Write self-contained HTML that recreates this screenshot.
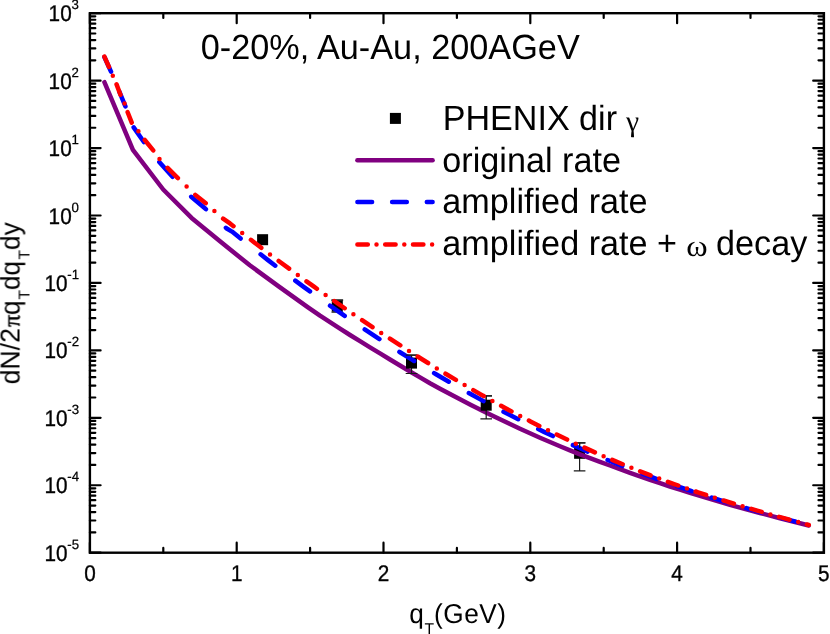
<!DOCTYPE html>
<html><head><meta charset="utf-8"><title>chart</title>
<style>html,body{margin:0;padding:0;background:#fff;}svg{display:block;}</style>
</head><body>
<svg width="830" height="634" viewBox="0 0 830 634">
<rect width="830" height="634" fill="#fff"/>
<g stroke="#1a1a1a" stroke-width="1.2" fill="none">
<path d="M579.6 442.8 V470.8 M573.8 442.8 H585.4 M573.8 470.8 H585.4"/>
</g>
<g fill="#000">
<rect x="574.1" y="447.8" width="11" height="11"/>
</g>
<g fill="none" stroke-linecap="round" stroke-linejoin="round" stroke-width="4.5">
<path d="M104.4 82.2 L132.9 149.9 L163.2 189.5 L191.6 217.9 L220.6 241.8 L249.8 265.3 L279.0 286.6 L308.0 307.3 L320.0 315.7 L330.0 322.2 L340.0 328.6 L350.0 335.0 L360.0 341.2 L370.0 347.3 L380.0 353.4 L390.0 359.5 L400.0 365.5 L410.0 371.5 L420.0 377.4 L430.0 383.2 L440.0 388.7 L450.0 394.1 L460.0 399.3 L470.0 404.4 L480.0 409.4 L490.0 414.4 L500.0 419.2 L510.0 424.0 L520.0 428.7 L530.0 433.2 L540.0 437.7 L550.0 442.0 L560.0 446.2 L570.0 450.3 L580.0 454.3 L590.0 458.1 L600.0 461.8 L610.0 465.5 L620.0 469.2 L630.0 472.8 L640.0 476.3 L650.0 479.8 L660.0 483.2 L670.0 486.5 L680.0 489.7 L690.0 492.8 L700.0 495.8 L710.0 498.9 L720.0 501.9 L730.0 504.8 L740.0 507.6 L750.0 510.3 L760.0 513.0 L770.0 515.6 L780.0 518.2 L790.0 520.7 L800.0 523.3 L808.8 525.5" stroke="#800080"/>
</g>
<g stroke="#1a1a1a" stroke-width="1.2" fill="none">
<path d="M337.3 300.1 V312.1 M331.5 300.1 H343.1 M331.5 312.1 H343.1"/>
<path d="M411.5 355.1 V373.5 M405.7 355.1 H417.3 M405.7 373.5 H417.3"/>
<path d="M486.2 395.9 V418.8 M480.4 395.9 H492.0 M480.4 418.8 H492.0"/>
</g>
<g fill="#000">
<rect x="257.1" y="234.2" width="11" height="11"/>
<rect x="331.8" y="300.6" width="11" height="11"/>
<rect x="406.0" y="357.6" width="11" height="11"/>
<rect x="480.7" y="399.7" width="11" height="11"/>
</g>
<g fill="none" stroke-linecap="round" stroke-linejoin="round" stroke-width="4.5">
<path d="M104.40 57.00 L111.00 71.60 L111.04 71.70M119.33 91.70 L125.43 106.40M133.67 127.40 L143.90 142.00 L143.98 142.10M159.27 162.10 L171.60 175.80 L172.53 176.80M191.20 196.80 L205.50 208.80 L205.90 209.17M225.90 227.83 L226.30 228.20 L232.00 231.60 L240.60 238.53M260.60 254.34 L268.00 260.10 L275.30 265.67M295.30 280.68 L304.00 287.09 L310.00 291.43M330.00 305.68 L340.00 312.65 L344.70 315.86M364.70 329.39 L376.00 336.84 L379.40 339.05M399.40 351.86 L400.00 352.24 L412.00 359.71 L414.10 361.00M434.10 373.08 L436.00 374.22 L448.00 381.24 L448.80 381.70M468.80 393.04 L472.00 394.83 L483.50 401.12M503.50 411.72 L508.00 414.06 L518.20 419.25M538.20 429.09 L544.00 431.88 L552.90 436.06M572.90 445.15 L580.00 448.30 L587.60 451.57M607.60 459.96 L616.00 463.38 L622.30 465.87M642.30 473.59 L652.00 477.21 L657.00 479.03M677.00 486.12 L688.00 489.88 L691.70 491.11M711.70 497.62 L712.00 497.72 L724.00 501.46 L726.40 502.19M746.40 508.15 L748.00 508.62 L760.00 512.04 L761.10 512.35M781.10 517.80 L784.00 518.58 L795.80 521.65" stroke="#0000ff"/>
</g>
<g stroke="#1a1a1a" stroke-width="1.2" fill="none">
<path d="M337.3 300.1 V300.6 M331.5 300.1 H343.1"/>
<path d="M411.5 355.1 V357.6 M405.7 355.1 H417.3"/>
<path d="M486.2 395.9 V399.7 M480.4 395.9 H492.0"/>
<path d="M579.6 442.8 V447.8 M573.8 442.8 H585.4"/>
</g>
<g fill="none" stroke-linecap="round" stroke-linejoin="round" stroke-width="4.5">
<path d="M104.40 56.60 L108.97 67.00M112.79 75.70 L112.80 75.70M116.56 84.40 L120.44 94.80M124.54 103.50 L124.55 103.50M127.65 112.20 L131.73 122.60M138.40 131.30 L138.41 131.30M144.78 140.00 L153.24 150.40M159.49 159.10 L159.50 159.10M167.51 167.80 L167.60 167.90 L177.90 178.10M186.60 186.58 L186.61 186.58M195.30 194.81 L195.40 194.90 L205.50 203.00 L205.70 203.18M214.40 210.99 L214.41 210.99M223.10 218.70 L223.10 218.70 L230.00 223.42 L233.50 226.19M242.20 233.05 L242.21 233.05M250.90 239.81 L254.00 242.22 L261.30 247.80M270.00 254.40 L270.01 254.40M278.70 260.94 L289.10 268.64M297.80 275.00 L297.81 275.00M306.50 281.31 L314.00 286.70 L316.90 288.76M325.60 294.93 L325.61 294.93M334.30 301.02 L338.00 303.61 L344.70 308.24M353.40 314.22 L353.41 314.22M362.10 320.15 L372.50 327.14M381.20 332.92 L381.21 332.92M389.90 338.65 L398.00 343.94 L400.30 345.41M409.00 351.00 L409.01 351.00M417.70 356.51 L422.00 359.23 L428.10 363.02M436.80 368.39 L436.81 368.39M445.50 373.70 L446.00 374.00 L455.90 379.93M464.60 385.06 L464.61 385.06M473.30 390.12 L482.00 395.11 L483.70 396.07M492.40 400.96 L492.41 400.96M501.10 405.75 L506.00 408.44 L511.50 411.39M520.20 416.02 L520.21 416.02M528.90 420.57 L530.00 421.15 L539.30 425.89M548.00 430.24 L548.01 430.24M556.70 434.53 L566.00 439.02 L567.10 439.54M575.80 443.63 L575.81 443.63M584.50 447.63 L590.00 450.15 L594.90 452.32M603.60 456.15 L603.61 456.15M612.30 459.90 L614.00 460.63 L622.70 464.25M631.40 467.80 L631.41 467.80M640.10 471.28 L650.00 475.14 L650.50 475.33M659.20 478.60 L659.21 478.60M667.90 481.79 L674.00 484.01 L678.30 485.51M687.00 488.55 L687.01 488.55M695.70 491.50 L698.00 492.27 L706.10 494.93M714.80 497.73 L714.81 497.73M723.50 500.48 L733.90 503.69M742.60 506.31 L742.61 506.31M751.30 508.88 L758.00 510.84 L761.70 511.90M770.40 514.39 L770.41 514.39M779.10 516.83 L782.00 517.64 L789.50 519.71M798.20 522.09 L798.21 522.09M806.90 524.44 L808.80 524.96" stroke="#ff0000"/>
</g>
<g stroke="#000" fill="none">
<rect x="89.90" y="13.20" width="734.00" height="539.50" stroke-width="2.4"/>
<path d="M89.90 552.70 v-10.00 M89.90 13.20 v10.00 M163.30 552.70 v-4.80 M163.30 13.20 v4.80 M236.70 552.70 v-10.00 M236.70 13.20 v10.00 M310.10 552.70 v-4.80 M310.10 13.20 v4.80 M383.50 552.70 v-10.00 M383.50 13.20 v10.00 M456.90 552.70 v-4.80 M456.90 13.20 v4.80 M530.30 552.70 v-10.00 M530.30 13.20 v10.00 M603.70 552.70 v-4.80 M603.70 13.20 v4.80 M677.10 552.70 v-10.00 M677.10 13.20 v10.00 M750.50 552.70 v-4.80 M750.50 13.20 v4.80 M823.90 552.70 v-10.00 M823.90 13.20 v10.00 M89.90 13.20 h10.70 M823.90 13.20 h-10.70 M89.90 60.34 h5.40 M823.90 60.34 h-5.40 M89.90 48.46 h5.40 M823.90 48.46 h-5.40 M89.90 40.04 h5.40 M823.90 40.04 h-5.40 M89.90 33.50 h5.40 M823.90 33.50 h-5.40 M89.90 28.16 h5.40 M823.90 28.16 h-5.40 M89.90 23.65 h5.40 M823.90 23.65 h-5.40 M89.90 19.74 h5.40 M823.90 19.74 h-5.40 M89.90 16.29 h5.40 M823.90 16.29 h-5.40 M89.90 80.64 h10.70 M823.90 80.64 h-10.70 M89.90 127.77 h5.40 M823.90 127.77 h-5.40 M89.90 115.90 h5.40 M823.90 115.90 h-5.40 M89.90 107.47 h5.40 M823.90 107.47 h-5.40 M89.90 100.94 h5.40 M823.90 100.94 h-5.40 M89.90 95.60 h5.40 M823.90 95.60 h-5.40 M89.90 91.08 h5.40 M823.90 91.08 h-5.40 M89.90 87.17 h5.40 M823.90 87.17 h-5.40 M89.90 83.72 h5.40 M823.90 83.72 h-5.40 M89.90 148.07 h10.70 M823.90 148.07 h-10.70 M89.90 195.21 h5.40 M823.90 195.21 h-5.40 M89.90 183.34 h5.40 M823.90 183.34 h-5.40 M89.90 174.91 h5.40 M823.90 174.91 h-5.40 M89.90 168.38 h5.40 M823.90 168.38 h-5.40 M89.90 163.04 h5.40 M823.90 163.04 h-5.40 M89.90 158.52 h5.40 M823.90 158.52 h-5.40 M89.90 154.61 h5.40 M823.90 154.61 h-5.40 M89.90 151.16 h5.40 M823.90 151.16 h-5.40 M89.90 215.51 h10.70 M823.90 215.51 h-10.70 M89.90 262.65 h5.40 M823.90 262.65 h-5.40 M89.90 250.77 h5.40 M823.90 250.77 h-5.40 M89.90 242.35 h5.40 M823.90 242.35 h-5.40 M89.90 235.81 h5.40 M823.90 235.81 h-5.40 M89.90 230.47 h5.40 M823.90 230.47 h-5.40 M89.90 225.96 h5.40 M823.90 225.96 h-5.40 M89.90 222.05 h5.40 M823.90 222.05 h-5.40 M89.90 218.60 h5.40 M823.90 218.60 h-5.40 M89.90 282.95 h10.70 M823.90 282.95 h-10.70 M89.90 330.09 h5.40 M823.90 330.09 h-5.40 M89.90 318.21 h5.40 M823.90 318.21 h-5.40 M89.90 309.79 h5.40 M823.90 309.79 h-5.40 M89.90 303.25 h5.40 M823.90 303.25 h-5.40 M89.90 297.91 h5.40 M823.90 297.91 h-5.40 M89.90 293.40 h5.40 M823.90 293.40 h-5.40 M89.90 289.49 h5.40 M823.90 289.49 h-5.40 M89.90 286.04 h5.40 M823.90 286.04 h-5.40 M89.90 350.39 h10.70 M823.90 350.39 h-10.70 M89.90 397.52 h5.40 M823.90 397.52 h-5.40 M89.90 385.65 h5.40 M823.90 385.65 h-5.40 M89.90 377.22 h5.40 M823.90 377.22 h-5.40 M89.90 370.69 h5.40 M823.90 370.69 h-5.40 M89.90 365.35 h5.40 M823.90 365.35 h-5.40 M89.90 360.83 h5.40 M823.90 360.83 h-5.40 M89.90 356.92 h5.40 M823.90 356.92 h-5.40 M89.90 353.47 h5.40 M823.90 353.47 h-5.40 M89.90 417.82 h10.70 M823.90 417.82 h-10.70 M89.90 464.96 h5.40 M823.90 464.96 h-5.40 M89.90 453.09 h5.40 M823.90 453.09 h-5.40 M89.90 444.66 h5.40 M823.90 444.66 h-5.40 M89.90 438.13 h5.40 M823.90 438.13 h-5.40 M89.90 432.79 h5.40 M823.90 432.79 h-5.40 M89.90 428.27 h5.40 M823.90 428.27 h-5.40 M89.90 424.36 h5.40 M823.90 424.36 h-5.40 M89.90 420.91 h5.40 M823.90 420.91 h-5.40 M89.90 485.26 h10.70 M823.90 485.26 h-10.70 M89.90 532.40 h5.40 M823.90 532.40 h-5.40 M89.90 520.52 h5.40 M823.90 520.52 h-5.40 M89.90 512.10 h5.40 M823.90 512.10 h-5.40 M89.90 505.56 h5.40 M823.90 505.56 h-5.40 M89.90 500.22 h5.40 M823.90 500.22 h-5.40 M89.90 495.71 h5.40 M823.90 495.71 h-5.40 M89.90 491.80 h5.40 M823.90 491.80 h-5.40 M89.90 488.35 h5.40 M823.90 488.35 h-5.40 M89.90 552.70 h10.70 M823.90 552.70 h-10.70 " stroke-width="2.2" stroke-linecap="round"/>
</g>
<g font-family="'Liberation Sans', sans-serif" fill="#000" opacity="0.999" style="text-rendering:geometricPrecision">
<text transform="translate(90.10 581.00) scale(0.9140 1)" font-size="22.7" text-anchor="middle" stroke="#000" stroke-width="0.35">0</text>
<text transform="translate(236.82 581.00) scale(0.9140 1)" font-size="22.7" text-anchor="middle" stroke="#000" stroke-width="0.35">1</text>
<text transform="translate(383.54 581.00) scale(0.9140 1)" font-size="22.7" text-anchor="middle" stroke="#000" stroke-width="0.35">2</text>
<text transform="translate(530.26 581.00) scale(0.9140 1)" font-size="22.7" text-anchor="middle" stroke="#000" stroke-width="0.35">3</text>
<text transform="translate(676.98 581.00) scale(0.9140 1)" font-size="22.7" text-anchor="middle" stroke="#000" stroke-width="0.35">4</text>
<text transform="translate(823.70 581.00) scale(0.9140 1)" font-size="22.7" text-anchor="middle" stroke="#000" stroke-width="0.35">5</text>
<text transform="translate(71.70 21.00) scale(0.9140 1)" font-size="22.7" text-anchor="end" stroke="#000" stroke-width="0.35">10</text>
<text transform="translate(71.50 9.00) scale(0.9900 1)" font-size="13.4" text-anchor="start" stroke="#000" stroke-width="0.25">3</text>
<text transform="translate(71.70 89.00) scale(0.9140 1)" font-size="22.7" text-anchor="end" stroke="#000" stroke-width="0.35">10</text>
<text transform="translate(71.50 77.00) scale(0.9900 1)" font-size="13.4" text-anchor="start" stroke="#000" stroke-width="0.25">2</text>
<text transform="translate(71.70 156.00) scale(0.9140 1)" font-size="22.7" text-anchor="end" stroke="#000" stroke-width="0.35">10</text>
<text transform="translate(71.50 144.00) scale(0.9900 1)" font-size="13.4" text-anchor="start" stroke="#000" stroke-width="0.25">1</text>
<text transform="translate(71.70 224.00) scale(0.9140 1)" font-size="22.7" text-anchor="end" stroke="#000" stroke-width="0.35">10</text>
<text transform="translate(71.50 212.00) scale(0.9900 1)" font-size="13.4" text-anchor="start" stroke="#000" stroke-width="0.25">0</text>
<text transform="translate(67.60 291.00) scale(0.9140 1)" font-size="22.7" text-anchor="end" stroke="#000" stroke-width="0.35">10</text>
<text transform="translate(67.30 279.00) scale(0.9900 1)" font-size="13.4" text-anchor="start" stroke="#000" stroke-width="0.25">-1</text>
<text transform="translate(67.60 358.00) scale(0.9140 1)" font-size="22.7" text-anchor="end" stroke="#000" stroke-width="0.35">10</text>
<text transform="translate(67.30 346.00) scale(0.9900 1)" font-size="13.4" text-anchor="start" stroke="#000" stroke-width="0.25">-2</text>
<text transform="translate(67.60 426.00) scale(0.9140 1)" font-size="22.7" text-anchor="end" stroke="#000" stroke-width="0.35">10</text>
<text transform="translate(67.30 414.00) scale(0.9900 1)" font-size="13.4" text-anchor="start" stroke="#000" stroke-width="0.25">-3</text>
<text transform="translate(67.60 493.00) scale(0.9140 1)" font-size="22.7" text-anchor="end" stroke="#000" stroke-width="0.35">10</text>
<text transform="translate(67.30 481.00) scale(0.9900 1)" font-size="13.4" text-anchor="start" stroke="#000" stroke-width="0.25">-4</text>
<text transform="translate(67.60 561.00) scale(0.9140 1)" font-size="22.7" text-anchor="end" stroke="#000" stroke-width="0.35">10</text>
<text transform="translate(67.30 549.00) scale(0.9900 1)" font-size="13.4" text-anchor="start" stroke="#000" stroke-width="0.25">-5</text>
<text transform="translate(200.70 59.00) scale(0.9790 1)" font-size="35" text-anchor="start">0-20%, Au-Au, 200AGeV</text>
<rect x="389.9" y="112.9" width="11" height="11"/>
<text transform="translate(442.70 130.00) scale(0.9740 1)" font-size="35" text-anchor="start">PHENIX dir</text>
<text transform="translate(626.00 131.00) scale(1.0000 1)" font-size="29.7" text-anchor="start" font-family="'Liberation Serif', serif">γ</text>
<text transform="translate(442.30 172.00) scale(0.9770 1)" font-size="35" text-anchor="start">original rate</text>
<text transform="translate(442.30 213.00) scale(0.9770 1)" font-size="35" text-anchor="start">amplified rate</text>
<text transform="translate(442.30 255.00) scale(0.9770 1)" font-size="35" text-anchor="start">amplified rate +</text>
<text transform="translate(686.30 256.00) scale(1.0620 1)" font-size="30.6" text-anchor="start" font-family="'Liberation Serif', serif">ω</text>
<text transform="translate(716.00 255.00) scale(0.9770 1)" font-size="35" text-anchor="start">decay</text>
<text transform="translate(409.30 623.00) scale(0.9600 1)" font-size="27.3" text-anchor="start">q</text>
<text transform="translate(424.40 634.00) scale(1.0000 1)" font-size="15.7" text-anchor="start">T</text>
<text transform="translate(434.10 623.00) scale(0.9600 1)" font-size="27.3" text-anchor="start" letter-spacing="0.5">(GeV)</text>
<g transform="translate(19.5 383.1) rotate(-90)">
<text transform="translate(-1.20 0.00) scale(0.9744 1)" font-size="27.3" text-anchor="start">dN/2</text>
<text transform="translate(56.30 0.00) scale(1.0000 1)" font-size="23.8875" text-anchor="start" font-family="'Liberation Serif', serif" stroke="#000" stroke-width="0.5">π</text>
<text transform="translate(67.90 0.00) scale(0.9600 1)" font-size="27.3" text-anchor="start">q</text>
<text transform="translate(83.40 10.20) scale(1.0000 1)" font-size="15.7" text-anchor="start">T</text>
<text transform="translate(93.00 0.00) scale(0.9600 1)" font-size="27.3" text-anchor="start">dq</text>
<text transform="translate(123.50 10.20) scale(1.0000 1)" font-size="15.7" text-anchor="start">T</text>
<text transform="translate(133.10 0.00) scale(0.9600 1)" font-size="27.3" text-anchor="start">dy</text>
</g>
</g>
<g fill="none" stroke-linecap="round" stroke-width="4.5">
<path d="M357.4 160.35 H432.6" stroke="#800080"/>
<path d="M357.40 202.10 L372.10 202.10M392.10 202.10 L406.80 202.10M426.80 202.10 L432.60 202.10" stroke="#0000ff"/>
<path d="M357.40 244.40 L367.80 244.40M376.50 244.40 L376.51 244.40M385.20 244.40 L395.60 244.40M404.30 244.40 L404.31 244.40M413.00 244.40 L423.40 244.40M432.10 244.40 L432.11 244.40" stroke="#ff0000"/>
</g>
</svg>
</body></html>
